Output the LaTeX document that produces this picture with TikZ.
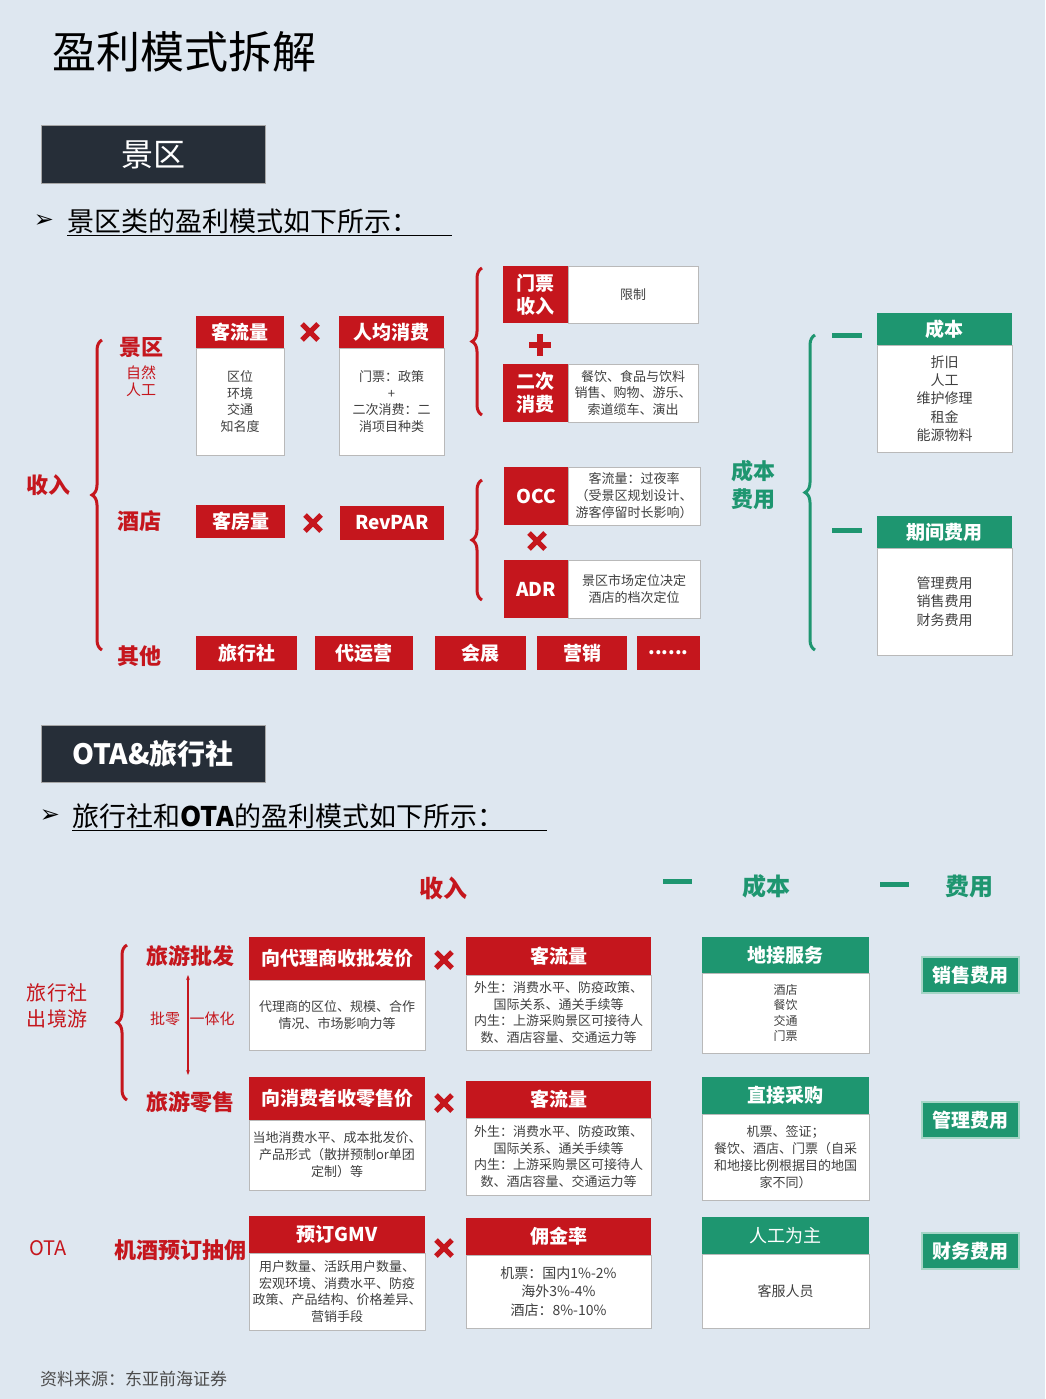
\documentclass[tikz,border=0pt]{standalone}
\usepackage{fontspec}
\setmainfont{Noto Sans CJK SC}
\newfontfamily\djfont{DejaVu Sans}
\usetikzlibrary{decorations.pathreplacing,arrows.meta}
\definecolor{bg}{HTML}{DEE7F0}
\definecolor{rd}{HTML}{C5161D}
\definecolor{gr}{HTML}{1E9670}
\definecolor{dk}{HTML}{262E38}
\newcommand\fs[1]{\fontsize{#1}{\fpeval{#1*1.3}}\selectfont}
\newcommand\bx[7]{\node[#6,minimum width={#4-#2},minimum height={#5-#3}] (#1) at ({(#2+#4)/2},{(#3+#5)/2}) {#7};}
\newcommand\crs[3]{\draw[rd,line width=5pt] ({#2-8},{#3-8}) -- ({#2+8},{#3+8}) ({#2-8},{#3+8}) -- ({#2+8},{#3-8}); \coordinate (#1) at (#2,#3);}
\tikzset{
 rh/.style={fill=rd,text=white,inner sep=0,outer sep=0,align=center,font=\fs{19}\bfseries},
 gh/.style={fill=gr,text=white,inner sep=0,outer sep=0,align=center,font=\fs{19}\bfseries},
 bd/.style={fill=white,draw=gray!55,line width=1pt,inner sep=0,outer sep=0,align=center,font=\fs{13}\color{black!75}},
 bd2/.style={bd,font=\fs{14}\color{black!75}},
 bd3/.style={bd,font=\fs{13}\color{black!75}},
 dkb/.style={fill=dk,draw=gray!70,line width=1pt,text=white,inner sep=0,align=center},
 rt/.style={text=rd,font=\fs{22}\bfseries,inner sep=0},
 gt/.style={text=gr,font=\fs{22}\bfseries,inner sep=0},
 brc/.style={decorate,decoration={brace,amplitude=10pt},line width=3pt},
 gdash/.style={gr,line width=5pt},
}
\begin{document}
\begin{tikzpicture}[x=1pt,y=-1pt]
\fill[bg] (0,0) rectangle (1045,1399);
\useasboundingbox (0,0) rectangle (1045,1399);
\node[font=\fs{44},anchor=west,inner sep=0] (title) at (52,52) {盈利模式拆解};
% section 1
\bx{s1}{41}{126}{265}{184}{dkb,font=\fs{32}}{景区}
\node[font=\djfont\fs{24},inner sep=0] (ar1) at (44,221) {➢};
\node[font=\fs{27},anchor=west,inner sep=0] (l1) at (67,221) {景区类的盈利模式如下所示：};
\draw[line width=1pt] (67,235) -- (452,235);
\node[rt] (sr) at (48,485) {收入};
\draw[rd,brc] (102,650) -- (102,340);
\node[rt] (jq) at (141,347) {景区};
\node[text=rd,font=\fs{15},align=center,inner sep=0] (zr) at (141,381) {自然\\[-2pt]人工};
\node[rt] (jd) at (139,521) {酒店};
\node[rt] (qt) at (139,656) {其他};
\bx{kl}{196}{316}{284}{348}{rh}{客流量}
\bx{klb}{196}{348}{284}{455}{bd}{区位\\环境\\交通\\知名度}
\crs{x1}{310}{332}
\bx{rj}{339}{316}{444}{348}{rh}{人均消费}
\bx{rjb}{339}{348}{444}{455}{bd}{门票：政策\\+\\二次消费：二\\消项目种类}
\draw[rd,brc] (482,415) -- (482,268);
\bx{mpb}{568}{266}{698}{323}{bd}{限制}
\bx{mp}{503}{266}{568}{323}{rh}{门票\\[-2pt]收入}
\draw[rd,line width=6pt] (529,345) -- (551,345) (540,334) -- (540,356);
\bx{ecb}{568}{364}{698}{422}{bd}{餐饮、食品与饮料\\销售、购物、游乐、\\索道缆车、演出}
\bx{ec}{503}{364}{568}{422}{rh}{二次\\[-2pt]消费}
\draw[rd,brc] (482,600) -- (482,480);
\bx{occb}{568}{467}{700}{525}{bd}{客流量：过夜率\\（受景区规划设计、\\游客停留时长影响）}
\bx{occ}{504}{467}{568}{525}{rh}{OCC}
\crs{x2}{537}{541}
\bx{adrb}{568}{560}{700}{618}{bd}{景区市场定位决定\\酒店的档次定位}
\bx{adr}{504}{560}{568}{618}{rh}{ADR}
\bx{kf}{196}{505}{285}{538}{rh}{客房量}
\crs{x3}{313}{523}
\bx{rev}{340}{506}{444}{540}{rh}{RevPAR}
\bx{o1}{196}{636}{297}{670}{rh}{旅行社}
\bx{o2}{315}{636}{413}{670}{rh}{代运营}
\bx{o3}{435}{636}{526}{670}{rh}{会展}
\bx{o4}{537}{636}{627}{670}{rh}{营销}
\bx{o5}{637}{636}{700}{670}{rh}{......}
\node[gt,align=center] (cb) at (753,485) {成本\\费用};
\draw[gr,brc] (815,650) -- (815,335);
\draw[gdash] (832,335) -- (862,335);
\draw[gdash] (832,530) -- (862,530);
\bx{cbh}{877}{313}{1012}{345}{gh}{成本}
\bx{cbb}{877}{345}{1012}{452}{bd2}{折旧\\人工\\维护修理\\租金\\能源物料}
\bx{qjh}{877}{516}{1012}{548}{gh}{期间费用}
\bx{qjb}{877}{548}{1012}{655}{bd2}{管理费用\\销售费用\\财务费用}
% section 2
\bx{s2}{41}{725}{265}{782}{dkb,font=\fs{28}\bfseries}{OTA\&旅行社}
\node[font=\djfont\fs{24},inner sep=0] (ar2) at (50,816) {➢};
\node[font=\fs{27},anchor=west,inner sep=0] (l2) at (72,816) {旅行社和\textbf{OTA}的盈利模式如下所示：};
\draw[line width=1pt] (72,830) -- (547,830);
\node[rt,font=\fs{24}\bfseries] (sr2) at (443,888) {收入};
\draw[gdash] (663,881) -- (692,881);
\node[gt,font=\fs{24}\bfseries] (cb2) at (766,886) {成本};
\draw[gdash] (880,884) -- (909,884);
\node[gt,font=\fs{24}\bfseries] (fy2) at (969,886) {费用};
\node[text=rd,font=\fs{20},align=center,inner sep=0] (lxs) at (57,1006) {旅行社\\出境游};
\draw[rd,brc] (127,1100) -- (127,945);
\node[rt] (pf) at (190,956) {旅游批发};
\node[rt] (ls) at (190,1102) {旅游零售};
\node[text=rd,font=\fs{15},inner sep=0] (pl) at (165,1019) {批零};
\node[text=rd,font=\fs{15},inner sep=0] (yt) at (212,1019) {一体化};
\draw[rd,line width=1.2pt,{Stealth[length=5pt]}-{Stealth[length=5pt]}] (188,975) -- (188,1075);
\node[text=rd,font=\fs{20},inner sep=0] (ota) at (48,1248) {OTA};
\node[rt] (jj) at (180,1250) {机酒预订抽佣};
\bx{a1}{249}{937}{425}{980}{rh}{向代理商收批发价}
\bx{a1b}{249}{980}{425}{1050}{bd3}{代理商的区位、规模、合作\\情况、市场影响力等}
\crs{x4}{444}{960}
\bx{b1}{466}{937}{651}{975}{rh}{客流量}
\bx{b1b}{466}{975}{651}{1050}{bd3}{外生：消费水平、防疫政策、\\国际关系、通关手续等\\内生：上游采购景区可接待人\\数、酒店容量、交通运力等}
\bx{c1}{702}{937}{869}{973}{gh}{地接服务}
\bx{c1b}{702}{973}{869}{1053}{bd,font=\fs{12}\color{black!75}}{酒店\\餐饮\\交通\\门票}
\bx{a2}{249}{1077}{425}{1120}{rh}{向消费者收零售价}
\bx{a2b}{249}{1120}{425}{1190}{bd3}{当地消费水平、成本批发价、\\产品形式（散拼预制or单团\\定制）等}
\crs{x5}{444}{1103}
\bx{b2}{466}{1081}{651}{1118}{rh}{客流量}
\bx{b2b}{466}{1118}{651}{1195}{bd3}{外生：消费水平、防疫政策、\\国际关系、通关手续等\\内生：上游采购景区可接待人\\数、酒店容量、交通运力等}
\bx{c2}{702}{1077}{869}{1114}{gh}{直接采购}
\bx{c2b}{702}{1114}{869}{1200}{bd3}{机票、签证；\\餐饮、酒店、门票（自采\\和地接比例根据目的地国\\家不同）}
\bx{a3}{249}{1216}{425}{1253}{rh}{预订GMV}
\bx{a3b}{249}{1253}{425}{1330}{bd3}{用户数量、活跃用户数量、\\宏观环境、消费水平、防疫\\政策、产品结构、价格差异、\\营销手段}
\crs{x6}{444}{1248}
\bx{b3}{466}{1218}{651}{1255}{rh}{佣金率}
\bx{b3b}{466}{1255}{651}{1328}{bd2}{机票：国内1\%-2\%\\海外3\%-4\%\\酒店：8\%-10\%}
\bx{c3}{702}{1217}{869}{1254}{gh,font=\fs{18}}{人工为主}
\bx{c3b}{702}{1254}{869}{1328}{bd2}{客服人员}
\bx{f1}{922}{957}{1019}{993}{gh,draw=gr!40,line width=1.5pt}{销售费用}
\bx{f2}{922}{1102}{1019}{1138}{gh,draw=gr!40,line width=1.5pt}{管理费用}
\bx{f3}{922}{1233}{1019}{1269}{gh,draw=gr!40,line width=1.5pt}{财务费用}
\node[font=\fs{17}\itshape,text=black!70,anchor=west,inner sep=0] (src) at (40,1379) {资料来源：东亚前海证券};
\end{tikzpicture}
\end{document}
